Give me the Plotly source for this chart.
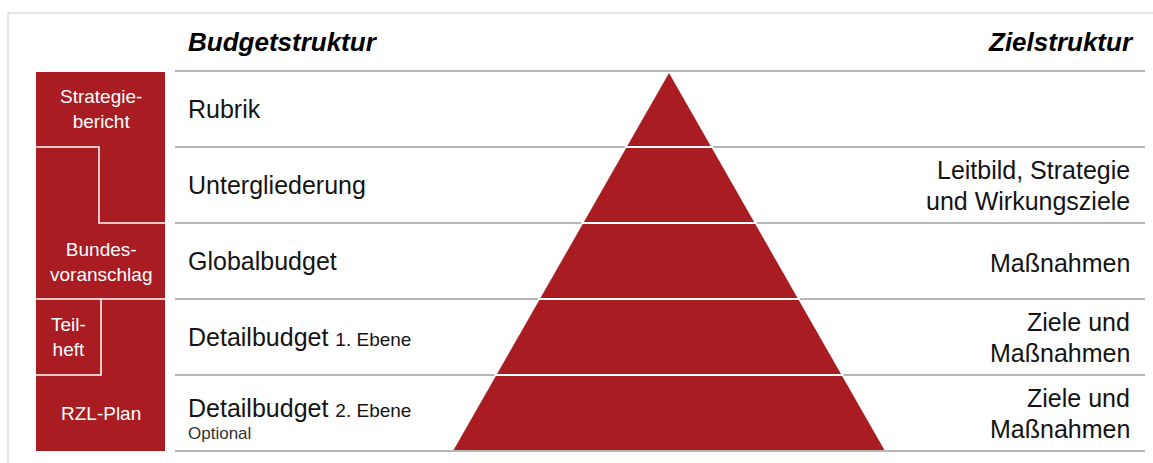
import plotly.graph_objects as go

# ---------------- data ----------------
header_left = "Budgetstruktur"
header_right = "Zielstruktur"
levels = ["Rubrik", "Untergliederung", "Globalbudget", "Detailbudget", "Detailbudget"]
level_suffix = ["", "", "", "1. Ebene", "2. Ebene"]
level_note = ["", "", "", "", "Optional"]
goals = [
    [],
    ["Leitbild, Strategie", "und Wirkungsziele"],
    ["Maßnahmen"],
    ["Ziele und", "Maßnahmen"],
    ["Ziele und", "Maßnahmen"],
]
documents = ["Strategie-<br>bericht", "Bundes-<br>voranschlag", "Teil-<br>heft", "RZL-Plan"]
document_row = [0, 2, 3, 4]          # row in which each document label sits
document_narrow = [False, False, True, False]

# ---------------- layout constants ----------------
W, H = 1153, 463
ROW_TOP, ROW_H = 71, 76
LINE_X0, LINE_X1 = 175, 1145
BOX_X0, BOX_X1 = 36, 165
STEP_X = 99          # x of inner white step lines in the document column
TEIL_X = 101
APEX_X, APEX_Y = 669, 73
BASE_HW = 216
RED = "#A81C22"
FONT = "Liberation Sans, Arial, sans-serif"
TXT = "#141414"
LABEL_X = 186

n = len(levels)
bottom = ROW_TOP + n * ROW_H


def row_y(i):
    return ROW_TOP + i * ROW_H


def half_width(y):
    return BASE_HW * (y - APEX_Y) / (bottom - APEX_Y)


fig = go.Figure()

# pyramid slices
for i in range(n):
    y0 = max(row_y(i), APEX_Y)
    y1 = row_y(i + 1) - (1 if i == n - 1 else 0)
    hw0, hw1 = half_width(y0), half_width(y1)
    fig.add_trace(go.Scatter(
        x=[APEX_X - hw0, APEX_X + hw0, APEX_X + hw1, APEX_X - hw1, APEX_X - hw0],
        y=[y0, y0, y1, y1, y0],
        mode="lines", fill="toself", fillcolor=RED,
        line=dict(width=0, color=RED), hoverinfo="skip", showlegend=False,
    ))

shapes = []
# outer frame
shapes.append(dict(type="line", x0=8, x1=W, y0=13, y1=13, line=dict(color="#cccccc", width=1), layer="below"))
shapes.append(dict(type="line", x0=8, x1=8, y0=13, y1=H, line=dict(color="#cccccc", width=1), layer="below"))
# row lines
for i in range(n + 1):
    shapes.append(dict(type="line", x0=LINE_X0, x1=LINE_X1, y0=row_y(i), y1=row_y(i),
                       line=dict(color="#9c9c9c", width=1.5), layer="below"))
# white gaps across pyramid
for i in range(1, n):
    y = row_y(i)
    hw = half_width(y) + 2
    shapes.append(dict(type="line", x0=APEX_X - hw, x1=APEX_X + hw, y0=y, y1=y,
                       line=dict(color="white", width=2), layer="above"))
# document column
shapes.append(dict(type="rect", x0=BOX_X0, x1=BOX_X1, y0=row_y(0) + 1, y1=bottom,
                   fillcolor=RED, line=dict(width=0), layer="below"))
shapes.append(dict(type="path",
                   path=f"M {BOX_X0},{row_y(1)} L {STEP_X},{row_y(1)} L {STEP_X},{row_y(2)} L {BOX_X1},{row_y(2)}",
                   line=dict(color="white", width=1.5), layer="above"))
shapes.append(dict(type="line", x0=BOX_X0, x1=BOX_X1, y0=row_y(3), y1=row_y(3),
                   line=dict(color="white", width=1.5), layer="above"))
shapes.append(dict(type="path",
                   path=f"M {TEIL_X},{row_y(3)} L {TEIL_X},{row_y(4)} L {BOX_X0},{row_y(4)}",
                   line=dict(color="white", width=1.5), layer="above"))

ann = []
# headers
ann.append(dict(x=LABEL_X, y=42, text=f"<b><i>{header_left}</i></b>", xanchor="left", yanchor="middle",
                showarrow=False, font=dict(size=26, color="#000000", family=FONT)))
ann.append(dict(x=1136, y=42, text=f"<b><i>{header_right}</i></b>", xanchor="right", yanchor="middle",
                showarrow=False, font=dict(size=26, color="#000000", family=FONT)))
# level labels
for i, lab in enumerate(levels):
    cy = row_y(i) + ROW_H / 2
    txt = lab
    if level_suffix[i]:
        txt += f" <span style='font-size:19px'>{level_suffix[i]}</span>"
    if level_note[i]:
        cy -= 5
    ann.append(dict(x=LABEL_X, y=cy, text=txt, xanchor="left", yanchor="middle", showarrow=False,
                    font=dict(size=25, color=TXT, family=FONT)))
    if level_note[i]:
        ann.append(dict(x=LABEL_X, y=cy + 25, text=level_note[i], xanchor="left", yanchor="middle",
                        showarrow=False, font=dict(size=17, color="#333333", family=FONT)))
# goal labels
for i, lines in enumerate(goals):
    cy = row_y(i) + ROW_H / 2
    k = len(lines)
    for j, line in enumerate(lines):
        y = cy + (j - (k - 1) / 2) * 31 + (2 if k == 1 else 0)
        ann.append(dict(x=1132, y=y, text=line, xanchor="right", yanchor="middle", showarrow=False,
                        font=dict(size=25, color=TXT, family=FONT)))
# document labels
for d, r, narrow in zip(documents, document_row, document_narrow):
    cx = (BOX_X0 + TEIL_X) / 2 if narrow else (BOX_X0 + BOX_X1) / 2
    cy = row_y(r) + ROW_H / 2 + (1 if r == 2 else 0)
    ann.append(dict(x=cx, y=cy, text=d, xanchor="center", yanchor="middle", showarrow=False,
                    font=dict(size=19, color="white", family=FONT)))

fig.update_layout(
    width=W, height=H, margin=dict(l=0, r=0, t=0, b=0),
    paper_bgcolor="white", plot_bgcolor="white",
    xaxis=dict(range=[0, W], visible=False, fixedrange=True),
    yaxis=dict(range=[H, 0], visible=False, fixedrange=True),
    shapes=shapes, annotations=ann, showlegend=False,
)

fig.write_html("out.html", post_script="document.body.style.margin='0px';",
               config={"displayModeBar": False})
